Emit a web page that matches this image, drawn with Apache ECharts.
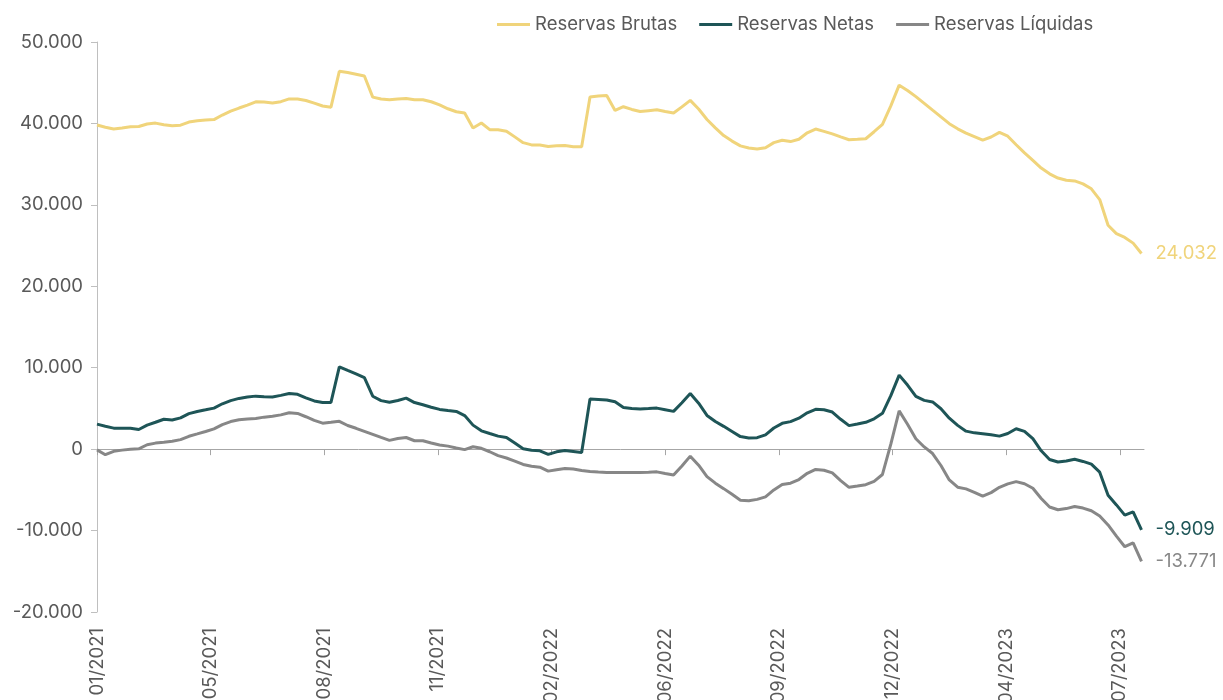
<!doctype html>
<html lang="es">
<head>
<meta charset="UTF-8">
<title>Reservas</title>
<style>
    html, body { margin: 0; padding: 0; background: #fff; }
    #main { width: 1223px; height: 700px; }
</style>
</head>
<body>
<div id="main"></div>
<script src="https://cdn.jsdelivr.net/npm/echarts@6/dist/echarts.min.js"></script>
<script>
    // etiquetas del eje X (una cada ~13,6 observaciones)
    var etiquetas = ['01/2021', '05/2021', '08/2021', '11/2021', '02/2022', '06/2022', '09/2022', '12/2022', '04/2023', '07/2023'];
    var paso = 13.6;

    // millones de USD
    var brutas = [39800, 39540, 39320, 39430, 39590, 39620, 39930, 40040, 39830, 39720,
        39790, 40170, 40330, 40430, 40470, 41030, 41520, 41890, 42250, 42660,
        42620, 42500, 42670, 43010, 43000, 42810, 42490, 42140, 42000, 46400,
        46250, 46040, 45830, 43230, 42990, 42910, 42990, 43070, 42920, 42910,
        42660, 42280, 41800, 41430, 41280, 39430, 40050, 39230, 39230, 39050,
        38350, 37640, 37360, 37340, 37170, 37270, 37300, 37140, 37140, 43240,
        43370, 43430, 41590, 42050, 41720, 41470, 41570, 41670, 41460, 41290,
        42030, 42830, 41770, 40480, 39460, 38510, 37830, 37240, 36980, 36850,
        37010, 37640, 37930, 37770, 38060, 38850, 39310, 39030, 38720, 38340,
        38000, 38050, 38120, 38980, 39870, 42150, 44700, 44040, 43290, 42470,
        41630, 40810, 39970, 39340, 38820, 38390, 37960, 38330, 38900, 38430,
        37380, 36390, 35470, 34520, 33810, 33290, 33020, 32940, 32580, 31970,
        30650, 27490, 26460, 26000, 25300, 24032];

    var netas = [3070, 2820, 2580, 2580, 2570, 2410, 2950, 3300, 3670, 3570,
        3840, 4360, 4630, 4830, 5040, 5570, 5960, 6230, 6400, 6510,
        6440, 6410, 6600, 6840, 6740, 6290, 5920, 5740, 5740, 10100,
        9660, 9230, 8780, 6500, 5960, 5750, 5970, 6260, 5720, 5450,
        5150, 4880, 4740, 4630, 4120, 2950, 2250, 1920, 1600, 1430,
        750, 40, -140, -210, -650, -330, -170, -280, -410, 6170,
        6100, 6030, 5820, 5110, 5000, 4930, 4980, 5040, 4840, 4640,
        5700, 6840, 5640, 4140, 3390, 2800, 2170, 1540, 1380, 1410,
        1760, 2600, 3170, 3380, 3800, 4460, 4890, 4840, 4560, 3670,
        2890, 3080, 3300, 3730, 4400, 6570, 9090, 7870, 6470, 5990,
        5800, 4960, 3800, 2920, 2210, 2000, 1900, 1760, 1600, 1920,
        2510, 2190, 1280, -200, -1270, -1580, -1460, -1250, -1510, -1840,
        -2830, -5660, -6850, -8100, -7700, -9909];

    var liquidas = [-90, -680, -270, -120, 0, 40, 540, 740, 840, 960,
        1170, 1580, 1870, 2170, 2490, 3020, 3390, 3600, 3690, 3770,
        3930, 4050, 4210, 4460, 4380, 3980, 3530, 3190, 3300, 3420,
        2900, 2560, 2190, 1820, 1440, 1080, 1310, 1430, 1030, 1030,
        750, 500, 370, 150, -60, 290, 100, -320, -790, -1090,
        -1470, -1880, -2100, -2210, -2700, -2520, -2370, -2440, -2620, -2750,
        -2810, -2860, -2860, -2860, -2860, -2860, -2830, -2790, -2990, -3180,
        -2060, -860, -1970, -3370, -4180, -4850, -5550, -6270, -6350, -6170,
        -5860, -5010, -4350, -4180, -3730, -2970, -2490, -2590, -2910, -3860,
        -4690, -4530, -4360, -3950, -3110, 610, 4700, 3060, 1280, 270,
        -540, -2010, -3780, -4670, -4880, -5310, -5770, -5340, -4690, -4270,
        -3990, -4250, -4800, -6060, -7100, -7440, -7300, -7040, -7240, -7570,
        -8220, -9310, -10690, -11980, -11510, -13771];

    var colores = ['#F0D47B', '#1E5557', '#878787'];
    var fuente = 'Inter';

    function miles(v) {
        var s = String(Math.abs(Math.round(v))).replace(/\B(?=(\d{3})+(?!\d))/g, '.');
        return (v < 0 ? '-' : '') + s;
    }

    var posTicks = etiquetas.map(function (e, k) { return k * paso; });

    function serie(nombre, datos, color) {
        return {
            name: nombre,
            type: 'line',
            xAxisIndex: 0,
            symbol: 'none',
            data: datos.map(function (v, i) { return [i, v]; }),
            lineStyle: { color: color, width: 3 },
            itemStyle: { color: color },
            endLabel: {
                show: true,
                distance: 14,
                color: color,
                fontFamily: fuente,
                fontSize: 18.5,
                formatter: function (p) { return miles(p.value[1]); }
            }
        };
    }

    var myChart = echarts.init(document.getElementById('main'));
    var option = {
        animation: false,
        textStyle: { fontFamily: fuente },
        legend: {
            top: 10,
            left: 492,
            icon: 'rect',
            itemWidth: 33,
            itemHeight: 3,
            itemGap: 22,
            selectedMode: false,
            textStyle: { fontSize: 18.5, color: '#595959', fontFamily: fuente },
            data: ['Reservas Brutas', 'Reservas Netas', 'Reservas Líquidas']
        },
        grid: { left: 97, right: 79, top: 42, bottom: 88, outerBoundsMode: 'none' },
        xAxis: [{
            type: 'value',
            min: 0,
            max: 125.3,
            position: 'bottom',
            axisLine: { onZero: true, lineStyle: { color: '#A6A6A6', width: 1 } },
            axisTick: { show: true, customValues: posTicks, length: 6, lineStyle: { color: '#A6A6A6' } },
            axisLabel: { show: false },
            splitLine: { show: false }
        }, {
            type: 'value',
            min: 0,
            max: 125.3,
            position: 'bottom',
            axisLine: { show: false, onZero: false },
            axisTick: { show: false },
            axisLabel: {
                customValues: posTicks,
                rotate: 90,
                margin: 16,
                fontSize: 18.5,
                color: '#595959',
                fontFamily: fuente,
                formatter: function (v) { return etiquetas[Math.round(v / paso)] || ''; }
            },
            splitLine: { show: false }
        }],
        yAxis: {
            type: 'value',
            min: -20000,
            max: 50000,
            interval: 10000,
            axisLine: { show: true, lineStyle: { color: '#BFBFBF' } },
            axisTick: { show: true, length: 6, lineStyle: { color: '#BFBFBF' } },
            axisLabel: {
                margin: 14,
                fontSize: 18.5,
                color: '#595959',
                fontFamily: fuente,
                formatter: function (v) { return miles(v); }
            },
            splitLine: { show: false }
        },
        series: [
            serie('Reservas Brutas', brutas, colores[0]),
            serie('Reservas Netas', netas, colores[1]),
            serie('Reservas Líquidas', liquidas, colores[2])
        ]
    };
    myChart.setOption(option);
</script>
</body>
</html>
